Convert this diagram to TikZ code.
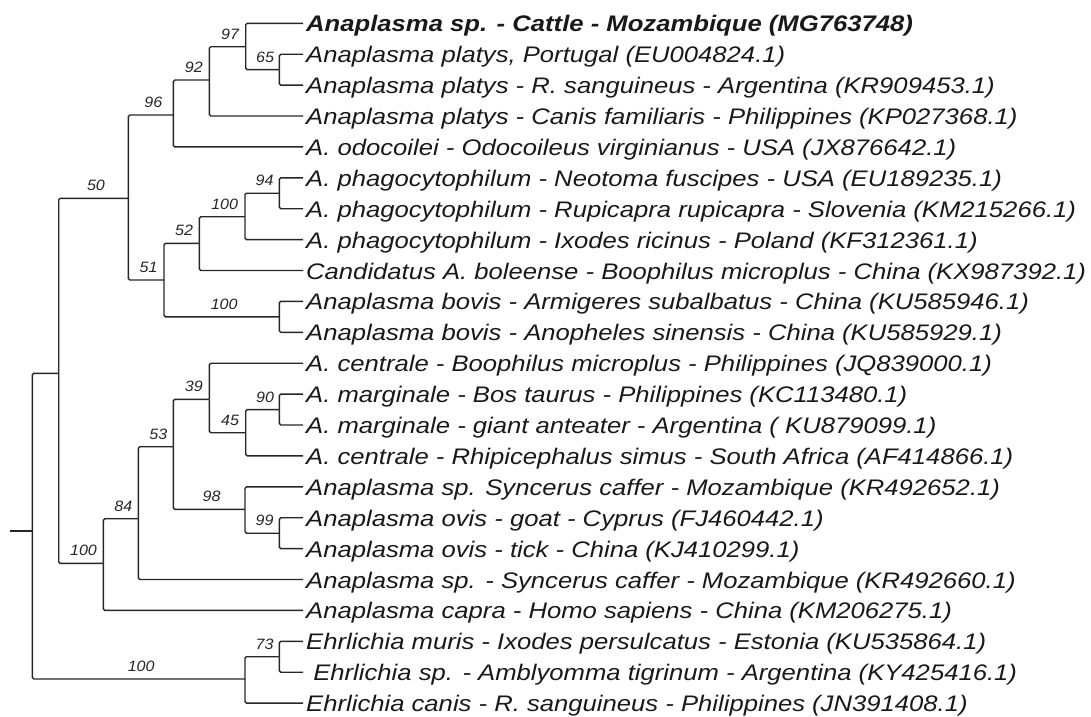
\documentclass[tikz,border=0pt]{standalone}
\usepackage{fontspec}
\setmainfont{Liberation Sans}[FakeStretch=1.14]
\newfontfamily\labfont{Liberation Sans}[FakeStretch=1.07]
\newcommand\leafentry[2]{%
  \coordinate (l#1) at (303,{23.3+30.9*(#1-1)});
  \node[leaf] (t#1) at (306,{31.8+30.9*(#1-1)}) {#2};}
\tikzset{
  br/.style={draw=black!85, line width=1.4pt, rounded corners=1.5pt},
  bs/.style={font=\labfont\itshape\fontsize{15}{15}\selectfont, anchor=base, xshift=2.5pt, yshift=7.5pt, inner sep=0pt, pos=0.75, text=black!85},
  leaf/.style={font=\itshape\fontsize{22.5}{22.5}\selectfont, anchor=base west, inner sep=0pt, text=black!90},
}
\begin{document}
\begin{tikzpicture}[x=1pt,y=-1pt]
\useasboundingbox (0,0) rectangle (1091,716);
% leaves
\leafentry{1}{\bfseries Anaplasma sp. - Cattle - Mozambique (MG763748)}
\leafentry{2}{Anaplasma platys, Portugal (EU004824.1)}
\leafentry{3}{Anaplasma platys - R. sanguineus - Argentina (KR909453.1)}
\leafentry{4}{Anaplasma platys - Canis familiaris - Philippines (KP027368.1)}
\leafentry{5}{A. odocoilei - Odocoileus virginianus - USA (JX876642.1)}
\leafentry{6}{A. phagocytophilum - Neotoma fuscipes - USA (EU189235.1)}
\leafentry{7}{A. phagocytophilum - Rupicapra rupicapra - Slovenia (KM215266.1)}
\leafentry{8}{A. phagocytophilum - Ixodes ricinus - Poland (KF312361.1)}
\leafentry{9}{Candidatus A. boleense - Boophilus microplus - China (KX987392.1)}
\leafentry{10}{Anaplasma bovis - Armigeres subalbatus - China (KU585946.1)}
\leafentry{11}{Anaplasma bovis - Anopheles sinensis - China (KU585929.1)}
\leafentry{12}{A. centrale - Boophilus microplus - Philippines (JQ839000.1)}
\leafentry{13}{A. marginale - Bos taurus - Philippines (KC113480.1)}
\leafentry{14}{A. marginale - giant anteater - Argentina ( KU879099.1)}
\leafentry{15}{A. centrale - Rhipicephalus simus - South Africa (AF414866.1)}
\leafentry{16}{Anaplasma sp. Syncerus caffer - Mozambique (KR492652.1)}
\leafentry{17}{Anaplasma ovis - goat - Cyprus (FJ460442.1)}
\leafentry{18}{Anaplasma ovis - tick - China (KJ410299.1)}
\leafentry{19}{Anaplasma sp. - Syncerus caffer - Mozambique (KR492660.1)}
\leafentry{20}{Anaplasma capra - Homo sapiens - China (KM206275.1)}
\leafentry{21}{Ehrlichia muris - Ixodes persulcatus - Estonia (KU535864.1)}
\leafentry{22}{\ Ehrlichia sp. - Amblyomma tigrinum - Argentina (KY425416.1)}
\leafentry{23}{Ehrlichia canis - R. sanguineus - Philippines (JN391408.1)}
% internal nodes
\coordinate (stub) at (10,531);
\coordinate (root) at (32.3,531);
\coordinate (A) at (58.7,373.3);
\coordinate (E) at (245,679);
\coordinate (e73) at (279.3,656.7);
\coordinate (n50) at (128.3,198.3);
\coordinate (n96) at (173.3,115);
\coordinate (n92) at (209.3,80);
\coordinate (n97) at (245.7,46.7);
\coordinate (n65) at (279.3,69.6);
\coordinate (n51) at (164,280);
\coordinate (n52) at (199.3,243.3);
\coordinate (nph) at (245,216.7);
\coordinate (n94) at (279.3,193.2);
\coordinate (nbo) at (279.3,316.8);
\coordinate (nlo) at (103.3,563.3);
\coordinate (n84) at (138.3,518.7);
\coordinate (n53) at (173.3,446.7);
\coordinate (n39) at (209.3,399.3);
\coordinate (n45) at (245.7,432.7);
\coordinate (n90) at (279.3,409.6);
\coordinate (n98) at (245,509.3);
\coordinate (n99) at (279.3,533.2);
% branches
\draw[br] (stub) -- (root);
\draw[br] (root) |- (A);
\draw[br] (root) |- (E) node[bs] {100};
\draw[br] (E) |- (e73) node[bs] {73};
\draw[br] (E) |- (l23);
\draw[br] (e73) |- (l21);
\draw[br] (e73) |- (l22);
\draw[br] (A) |- (n50) node[bs] {50};
\draw[br] (A) |- (nlo) node[bs] {100};
\draw[br] (n50) |- (n96) node[bs] {96};
\draw[br] (n50) |- (n51) node[bs] {51};
\draw[br] (n96) |- (n92) node[bs] {92};
\draw[br] (n96) |- (l5);
\draw[br] (n92) |- (n97) node[bs] {97};
\draw[br] (n92) |- (l4);
\draw[br] (n97) |- (l1);
\draw[br] (n97) |- (n65) node[bs] {65};
\draw[br] (n65) |- (l2);
\draw[br] (n65) |- (l3);
\draw[br] (n51) |- (n52) node[bs] {52};
\draw[br] (n51) |- (nbo) node[bs] {100};
\draw[br] (n52) |- (nph) node[bs] {100};
\draw[br] (n52) |- (l9);
\draw[br] (nph) |- (n94) node[bs] {94};
\draw[br] (nph) |- (l8);
\draw[br] (n94) |- (l6);
\draw[br] (n94) |- (l7);
\draw[br] (nbo) |- (l10);
\draw[br] (nbo) |- (l11);
\draw[br] (nlo) |- (n84) node[bs] {84};
\draw[br] (nlo) |- (l20);
\draw[br] (n84) |- (n53) node[bs] {53};
\draw[br] (n84) |- (l19);
\draw[br] (n53) |- (n39) node[bs] {39};
\draw[br] (n53) |- (n98) node[bs] {98};
\draw[br] (n39) |- (l12);
\draw[br] (n39) |- (n45) node[bs] {45};
\draw[br] (n45) |- (n90) node[bs] {90};
\draw[br] (n45) |- (l15);
\draw[br] (n90) |- (l13);
\draw[br] (n90) |- (l14);
\draw[br] (n98) |- (l16);
\draw[br] (n98) |- (n99) node[bs] {99};
\draw[br] (n99) |- (l17);
\draw[br] (n99) |- (l18);
\end{tikzpicture}
\end{document}
